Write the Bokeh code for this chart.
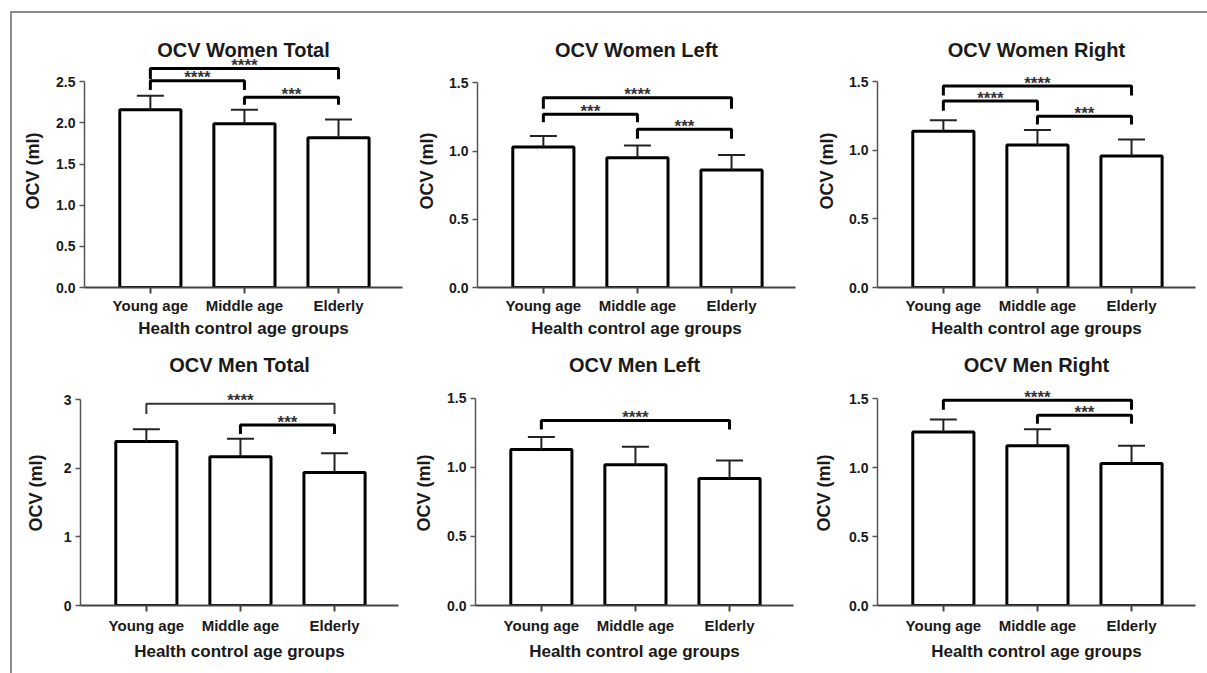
from bokeh.plotting import figure
from bokeh.layouts import row, column
from bokeh.models import (ColumnDataSource, Range1d, FixedTicker,
                          NumeralTickFormatter, Whisker, TeeHead)
from bokeh.embed import file_html
from bokeh.resources import INLINE
from bokeh.core.properties import value

# ---------------- data ----------------
categories = ["Young age", "Middle age", "Elderly"]
x_axis_title = "Health control age groups"
y_axis_title = "OCV (ml)"

panel_titles = ["OCV Women Total", "OCV Women Left", "OCV Women Right",
                "OCV Men Total", "OCV Men Left", "OCV Men Right"]

women_total_mean = [2.16, 1.99, 1.82]
women_total_sd = [0.17, 0.17, 0.22]
women_left_mean = [1.03, 0.95, 0.86]
women_left_sd = [0.08, 0.09, 0.11]
women_right_mean = [1.14, 1.04, 0.96]
women_right_sd = [0.08, 0.11, 0.12]
men_total_mean = [2.39, 2.17, 1.94]
men_total_sd = [0.18, 0.26, 0.28]
men_left_mean = [1.13, 1.02, 0.92]
men_left_sd = [0.09, 0.13, 0.13]
men_right_mean = [1.26, 1.16, 1.03]
men_right_sd = [0.09, 0.12, 0.13]

ticks_women_total = [0.0, 0.5, 1.0, 1.5, 2.0, 2.5]
ticks_side = [0.0, 0.5, 1.0, 1.5]
ticks_men_total = [0, 1, 2, 3]

# significance brackets: from, to, bracket height, leg bottom, stars
women_total_br_from = ["Young age", "Young age", "Middle age"]
women_total_br_to = ["Elderly", "Middle age", "Elderly"]
women_total_br_y = [2.66, 2.51, 2.31]
women_total_br_leg = [2.53, 2.40, 2.22]
women_total_stars = ["****", "****", "***"]

women_left_br_from = ["Young age", "Young age", "Middle age"]
women_left_br_to = ["Elderly", "Middle age", "Elderly"]
women_left_br_y = [1.39, 1.27, 1.16]
women_left_br_leg = [1.31, 1.21, 1.09]
women_left_stars = ["****", "***", "***"]

women_right_br_from = ["Young age", "Young age", "Middle age"]
women_right_br_to = ["Elderly", "Middle age", "Elderly"]
women_right_br_y = [1.47, 1.36, 1.25]
women_right_br_leg = [1.40, 1.29, 1.19]
women_right_stars = ["****", "****", "***"]

men_total_br_from = ["Young age", "Middle age"]
men_total_br_to = ["Elderly", "Elderly"]
men_total_br_y = [2.94, 2.63]
men_total_br_leg = [2.79, 2.50]
men_total_stars = ["****", "***"]

men_left_br_from = ["Young age"]
men_left_br_to = ["Elderly"]
men_left_br_y = [1.34]
men_left_br_leg = [1.275]
men_left_stars = ["****"]

men_right_br_from = ["Young age", "Middle age"]
men_right_br_to = ["Elderly", "Elderly"]
men_right_br_y = [1.49, 1.38]
men_right_br_leg = [1.42, 1.32]
men_right_stars = ["****", "***"]

# ---------------- styling ----------------
FONT = "Liberation Sans"
TXT = "#1a1a1a"


def make_panel(title, means, sds, y_ticks, y_fmt, y_end,
               br_from, br_to, br_y, br_leg, stars,
               width, left, right, top, frame_h, bottom,
               ylab_standoff, tick_standoff, xlab_standoff, title_standoff,
               thin_first=False):
    n = len(categories)
    xs = list(range(n))
    p = figure(width=width, height=top + frame_h + bottom,
               x_range=Range1d(-0.70, n - 1 + 0.68),
               y_range=Range1d(0, y_end),
               output_backend="svg", toolbar_location=None,
               min_border_left=left, min_border_right=right,
               min_border_top=top, min_border_bottom=bottom)
    p.background_fill_color = "white"
    p.border_fill_color = None
    p.outline_line_color = None
    p.grid.visible = False

    upper = [m + s for m, s in zip(means, sds)]
    src = ColumnDataSource(dict(x=xs, mean=means, upper=upper))
    p.vbar(x="x", top="mean", bottom=0, width=0.65, source=src,
           fill_color="white", line_color="black", line_width=3)
    p.add_layout(Whisker(source=src, base="x", lower="mean", upper="upper",
                         dimension="height", line_width=2, line_color="#222222",
                         upper_head=TeeHead(size=27, line_width=2, line_color="#222222"),
                         lower_head=None, level="glyph"))

    bx, by, bw, bc, sx = [], [], [], [], []
    for k, (a, b, y, leg) in enumerate(zip(br_from, br_to, br_y, br_leg)):
        ia, ib = categories.index(a), categories.index(b)
        bx.append([ia, ia, ib, ib])
        by.append([leg, y, y, leg])
        thin = thin_first and k == 0
        bw.append(2 if thin else 3)
        bc.append("#333333" if thin else "black")
        sx.append((ia + ib) / 2)
    p.multi_line(xs="xs", ys="ys", line_width="w", line_color="c",
                 source=ColumnDataSource(dict(xs=bx, ys=by, w=bw, c=bc)))
    p.text(x=sx, y=br_y, text=stars, text_align="center",
           text_baseline="alphabetic", y_offset=-3,
           text_font=value(FONT), text_font_size="17px", text_font_style="bold",
           text_color="#333333")

    xa = p.xaxis[0]
    xa.ticker = FixedTicker(ticks=xs)
    xa.major_label_overrides = {i: c for i, c in enumerate(categories)}
    xa.axis_label = x_axis_title
    xa.axis_line_width = 2
    xa.axis_line_color = "#444444"
    xa.major_tick_line_width = 2
    xa.major_tick_line_color = "#444444"
    xa.major_tick_out = 6
    xa.major_tick_in = 0
    xa.minor_tick_line_color = None
    xa.major_label_standoff = tick_standoff
    xa.major_label_text_font = FONT
    xa.major_label_text_font_style = "bold"
    xa.major_label_text_font_size = "15px"
    xa.major_label_text_color = TXT
    xa.axis_label_standoff = xlab_standoff
    xa.axis_label_text_font = FONT
    xa.axis_label_text_font_style = "bold"
    xa.axis_label_text_font_size = "17px"
    xa.axis_label_text_color = TXT

    ya = p.yaxis[0]
    ya.ticker = FixedTicker(ticks=y_ticks)
    ya.formatter = NumeralTickFormatter(format=y_fmt)
    ya.bounds = (0, y_ticks[-1])
    ya.axis_label = y_axis_title
    ya.axis_line_width = 1.5
    ya.axis_line_color = "#555555"
    ya.major_tick_line_width = 1.5
    ya.major_tick_line_color = "#555555"
    ya.major_tick_out = 5
    ya.major_tick_in = 0
    ya.minor_tick_line_color = None
    ya.major_label_standoff = 4
    ya.major_label_text_font = FONT
    ya.major_label_text_font_style = "bold"
    ya.major_label_text_font_size = "14px"
    ya.major_label_text_color = TXT
    ya.axis_label_standoff = ylab_standoff
    ya.axis_label_text_font = FONT
    ya.axis_label_text_font_style = "bold"
    ya.axis_label_text_font_size = "18px"
    ya.axis_label_text_color = TXT

    p.title.text = title
    p.title.align = "center"
    p.title.text_font = FONT
    p.title.text_font_style = "bold"
    p.title.text_font_size = "20px"
    p.title.text_color = TXT
    p.title.standoff = title_standoff
    return p


R1 = dict(top=41, frame_h=233, bottom=53, tick_standoff=3, xlab_standoff=2, title_standoff=-13)
R2 = dict(top=40, frame_h=225, bottom=68, tick_standoff=5, xlab_standoff=5, title_standoff=10)

f1 = make_panel(panel_titles[0], women_total_mean, women_total_sd, ticks_women_total, "0.0", 2.83,
                women_total_br_from, women_total_br_to, women_total_br_y, women_total_br_leg,
                women_total_stars, width=393, left=72, right=3, ylab_standoff=10, **R1)
f2 = make_panel(panel_titles[1], women_left_mean, women_left_sd, ticks_side, "0.0", 1.707,
                women_left_br_from, women_left_br_to, women_left_br_y, women_left_br_leg,
                women_left_stars, width=397, left=72, right=7, ylab_standoff=9, **R1)
f3 = make_panel(panel_titles[2], women_right_mean, women_right_sd, ticks_side, "0.0", 1.70,
                women_right_br_from, women_right_br_to, women_right_br_y, women_right_br_leg,
                women_right_stars, width=405, left=75, right=12, ylab_standoff=9, **R1)
f4 = make_panel(panel_titles[3], men_total_mean, men_total_sd, ticks_men_total, "0", 3.28,
                men_total_br_from, men_total_br_to, men_total_br_y, men_total_br_leg,
                men_total_stars, width=393, left=68, right=7, ylab_standoff=15,
                thin_first=True, **R2)
f5 = make_panel(panel_titles[4], men_left_mean, men_left_sd, ticks_side, "0.0", 1.63,
                men_left_br_from, men_left_br_to, men_left_br_y, men_left_br_leg,
                men_left_stars, width=397, left=70, right=9, ylab_standoff=10, **R2)
f6 = make_panel(panel_titles[5], men_right_mean, men_right_sd, ticks_side, "0.0", 1.633,
                men_right_br_from, men_right_br_to, men_right_br_y, men_right_br_leg,
                men_right_stars, width=405, left=75, right=12, ylab_standoff=12, **R2)

layout = column(row(f1, f2, f3), row(f4, f5, f6),
                styles={"border-top": "2px solid #8c8c8c",
                        "border-left": "2px solid #8c8c8c",
                        "margin-top": "11px", "margin-left": "10px"})

open("out.html", "w").write(file_html(layout, INLINE))
